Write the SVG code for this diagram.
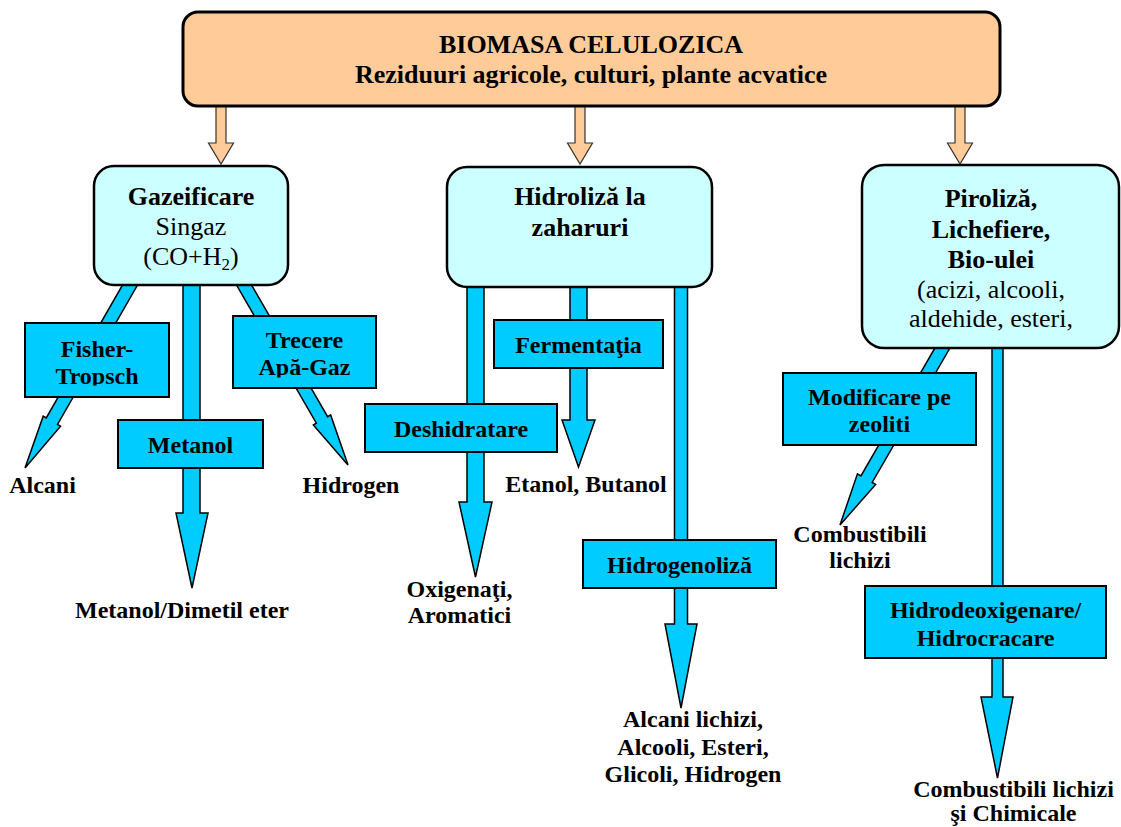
<svg xmlns="http://www.w3.org/2000/svg" width="1121" height="827" viewBox="0 0 1121 827">
<style>
text{font-family:"Liberation Serif","Times New Roman",serif;fill:#000;text-anchor:middle}
.b{font-weight:bold}
.big{font-size:26px}
.sm{font-size:24px;font-weight:bold}
.top{fill:#FFCC99;stroke:#000;stroke-width:3}
.lt{fill:#CCFFFF;stroke:#000;stroke-width:2.5}
.bl{fill:#00CCFF;stroke:#000;stroke-width:2}
.ar{fill:#00CCFF;stroke:#000;stroke-width:1.5;stroke-linejoin:miter}
.oa{fill:#FFCC99;stroke:#333;stroke-width:1.2}
</style>
<defs>
<clipPath id="cFT"><rect x="25" y="323" width="144" height="62.5"/></clipPath>
<clipPath id="cTR"><rect x="233" y="316" width="143" height="61.5"/></clipPath>
</defs>
<rect width="1121" height="827" fill="#fff"/>
<g id="connectors">
<!-- orange arrows -->
<polygon class="oa" points="216,104 226,104 226,143 233.5,143 221,164 208.5,143 216,143"/>
<polygon class="oa" points="575,104 585,104 585,143 592.5,143 580,164 567.5,143 575,143"/>
<polygon class="oa" points="955,104 965,104 965,143 972.5,143 960,164 947.5,143 955,143"/>
<!-- Gazeificare arrows -->
<polygon class="ar" transform="translate(25,468) rotate(119.85)" points="0,0 -54,-10 -54,-6.5 -232,-6.5 -232,6.5 -54,6.5 -54,10"/>
<polygon class="ar" points="183,280 200,280 200,513 208,513 192,588 176,513 183,513"/>
<polygon class="ar" transform="translate(348,465) rotate(59.98)" points="0,0 -52,-10 -52,-6.5 -228,-6.5 -228,6.5 -52,6.5 -52,10"/>
<!-- Hidroliza arrows -->
<polygon class="ar" points="467,280 484,280 484,502 492,502 475.5,577 459,502 467,502"/>
<polygon class="ar" points="570,280 587,280 587,420 595,420 578.5,467 562,420 570,420"/>
<polygon class="ar" points="674.5,280 687.5,280 687.5,624 697,624 681,708 665,624 674.5,624"/>
<!-- Piroliza arrows -->
<polygon class="ar" transform="translate(840,525) rotate(120.06)" points="0,0 -53,-10.5 -53,-6.5 -220,-6.5 -220,6.5 -53,6.5 -53,10.5"/>
<polygon class="ar" points="992,340 1003,340 1003,697 1013,697 997.5,778 981,697 992,697"/>
</g>
<g id="n-biomasa">
<rect class="top" x="183" y="12" width="817" height="94" rx="15"/>
<text class="big b" x="591" y="53">BIOMASA CELULOZICA</text>
<text class="big b" x="591" y="83">Reziduuri agricole, culturi, plante acvatice</text>
</g>
<g id="n-gazeificare">
<rect class="lt" x="94" y="166" width="194" height="119" rx="20"/>
<text class="big b" x="191" y="205">Gazeificare</text>
<text class="big" x="191" y="235">Singaz</text>
<text class="big" x="191" y="265">(CO+H<tspan font-size="17" dy="5">2</tspan><tspan dy="-5">)</tspan></text>
</g>
<g id="n-hidroliza">
<rect class="lt" x="447" y="167" width="265" height="120" rx="20"/>
<text class="big b" x="580" y="205">Hidroliză la</text>
<text class="big b" x="580" y="236">zaharuri</text>
</g>
<g id="n-piroliza">
<rect class="lt" x="862" y="165" width="257" height="183" rx="22"/>
<text class="big b" x="991" y="207">Piroliză,</text>
<text class="big b" x="991" y="238">Lichefiere,</text>
<text class="big b" x="991" y="268">Bio-ulei</text>
<text class="big" x="991" y="298">(acizi, alcooli,</text>
<text class="big" x="991" y="327">aldehide, esteri,</text>
</g>
<g id="n-fisher">
<rect class="bl" x="25" y="323" width="144" height="74"/>
<g clip-path="url(#cFT)">
<text class="sm" x="97" y="357">Fisher-</text>
<text class="sm" x="97" y="384">Tropsch</text>
</g>
</g>
<g id="n-metanol">
<rect class="bl" x="118" y="420" width="145" height="48"/>
<text class="sm" x="190.5" y="453">Metanol</text>
</g>
<g id="n-trecere">
<rect class="bl" x="233" y="316" width="143" height="72"/>
<g clip-path="url(#cTR)">
<text class="sm" x="304.5" y="348">Trecere</text>
<text class="sm" x="304.5" y="375">Apă-Gaz</text>
</g>
</g>
<g id="n-deshidratare">
<rect class="bl" x="365" y="404" width="192" height="48"/>
<text class="sm" x="461" y="437">Deshidratare</text>
</g>
<g id="n-fermentatia">
<rect class="bl" x="494" y="320" width="169" height="48"/>
<text class="sm" x="578.5" y="353">Fermentaţia</text>
</g>
<g id="n-hidrogenoliza">
<rect class="bl" x="583" y="540" width="193" height="48"/>
<text class="sm" x="679.5" y="573">Hidrogenoliză</text>
</g>
<g id="n-modificare">
<rect class="bl" x="783" y="373" width="193" height="72"/>
<text class="sm" x="879.5" y="405">Modificare pe</text>
<text class="sm" x="879.5" y="432">zeoliti</text>
</g>
<g id="n-hidrodeox">
<rect class="bl" x="865" y="586" width="241" height="72"/>
<text class="sm" x="985.5" y="618">Hidrodeoxigenare/</text>
<text class="sm" x="985.5" y="646">Hidrocracare</text>
</g>
<g id="n-alcani"><text class="sm" x="42.5" y="493">Alcani</text></g>
<g id="n-hidrogen"><text class="sm" x="351" y="493">Hidrogen</text></g>
<g id="n-dme"><text class="sm" x="182" y="618">Metanol/Dimetil eter</text></g>
<g id="n-oxigenati">
<text class="sm" x="459.5" y="597">Oxigenaţi,</text>
<text class="sm" x="459.5" y="623">Aromatici</text>
</g>
<g id="n-etanol"><text class="sm" x="586" y="492">Etanol, Butanol</text></g>
<g id="n-alcanilich">
<text class="sm" x="693" y="727">Alcani lichizi,</text>
<text class="sm" x="693" y="755">Alcooli, Esteri,</text>
<text class="sm" x="693" y="782">Glicoli, Hidrogen</text>
</g>
<g id="n-comb1">
<text class="sm" x="860" y="542">Combustibili</text>
<text class="sm" x="860" y="568">lichizi</text>
</g>
<g id="n-comb2">
<text class="sm" x="1013.5" y="797">Combustibili lichizi</text>
<text class="sm" x="1013.5" y="821">şi Chimicale</text>
</g>
</svg>
